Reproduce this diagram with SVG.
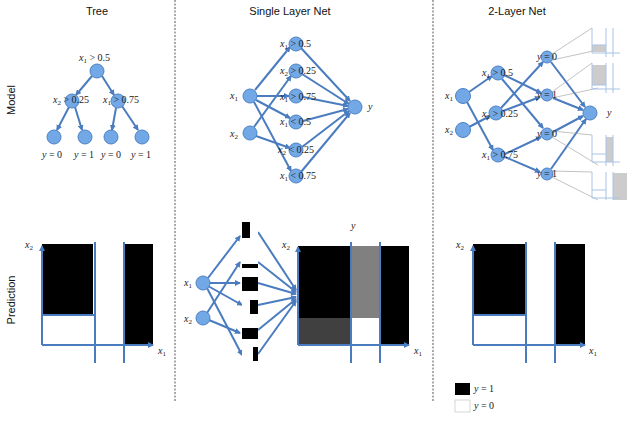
<svg xmlns="http://www.w3.org/2000/svg" width="640" height="421" viewBox="0 0 640 421">
<style>
.t{font-family:"Liberation Sans",sans-serif;font-size:11px;fill:#111;text-anchor:middle}
.m{font-family:"Liberation Serif",serif;font-size:10px;fill:#222}
.mi{font-style:italic}
.n{fill:#72a8e6;stroke:#4d82c4;stroke-width:1}
.e{stroke:#4a7cbf;stroke-width:2;fill:none;marker-end:url(#a)}
.ax{stroke:#4a7cbf;stroke-width:2;fill:none}
.g{stroke:#999;stroke-width:0.6;fill:none}
.mini{stroke:#a9c3e6;stroke-width:1;fill:none}
.div{stroke:#555;stroke-width:1;stroke-dasharray:2,1.5}
</style>
<defs>
<marker id="a" markerWidth="6" markerHeight="6" refX="5" refY="3" orient="auto" markerUnits="userSpaceOnUse"><path d="M0,0L6,3L0,6z" fill="#4a7cbf"/></marker>
</defs>
<rect width="640" height="421" fill="#fff"/>
<line class="div" x1="175" y1="0" x2="175" y2="402"/>
<line class="div" x1="433" y1="0" x2="433" y2="402"/>
<text class="t" x="97" y="15">Tree</text>
<text class="t" x="290" y="15">Single Layer Net</text>
<text class="t" x="517" y="15">2-Layer Net</text>
<text class="t" transform="translate(15,100) rotate(-90)">Model</text>
<text class="t" transform="translate(15,300) rotate(-90)">Prediction</text>

<g id="connectors">
<line class="e" x1="92" y1="76" x2="76" y2="95"/>
<line class="e" x1="102" y1="76" x2="114" y2="95"/>
<line class="e" x1="69" y1="107" x2="57" y2="130"/>
<line class="e" x1="75" y1="107" x2="82" y2="130"/>
<line class="e" x1="116" y1="108" x2="112" y2="130"/>
<line class="e" x1="122" y1="106" x2="138" y2="130"/>
<line class="e" x1="255" y1="90" x2="290" y2="47"/>
<line class="e" x1="257" y1="96" x2="289" y2="96"/>
<line class="e" x1="256" y1="100" x2="290" y2="118"/>
<line class="e" x1="254" y1="102" x2="291" y2="171"/>
<line class="e" x1="254" y1="127" x2="291" y2="76"/>
<line class="e" x1="256" y1="136" x2="290" y2="148"/>
<line class="e" x1="301" y1="48" x2="350" y2="101"/>
<line class="e" x1="302" y1="74" x2="349" y2="104"/>
<line class="e" x1="303" y1="97" x2="348" y2="106"/>
<line class="e" x1="303" y1="121" x2="348" y2="109"/>
<line class="e" x1="302" y1="147" x2="349" y2="111"/>
<line class="e" x1="301" y1="172" x2="350" y2="113"/>
<line class="e" x1="469" y1="92" x2="492" y2="76"/>
<line class="e" x1="467" y1="102" x2="493" y2="150"/>
<line class="e" x1="469" y1="127" x2="490" y2="116"/>
<line class="e" x1="504" y1="75" x2="541" y2="93"/>
<line class="e" x1="502" y1="79" x2="543" y2="128"/>
<line class="e" x1="501" y1="108" x2="543" y2="62"/>
<line class="e" x1="503" y1="111" x2="540" y2="97"/>
<line class="e" x1="505" y1="154" x2="541" y2="137"/>
<line class="e" x1="505" y1="157" x2="540" y2="172"/>
<line class="e" x1="551" y1="62" x2="585" y2="107"/>
<line class="e" x1="553" y1="98" x2="583" y2="110"/>
<line class="e" x1="553" y1="132" x2="583" y2="116"/>
<line class="e" x1="551" y1="169" x2="586" y2="119"/>
<line class="g" x1="552" y1="54" x2="592" y2="28"/><line class="g" x1="552" y1="60" x2="598" y2="50"/>
<line class="g" x1="552" y1="92" x2="592" y2="63"/><line class="g" x1="552" y1="98" x2="598" y2="88"/>
<line class="g" x1="552" y1="131" x2="592" y2="135"/><line class="g" x1="552" y1="137" x2="598" y2="165"/>
<line class="g" x1="552" y1="171" x2="592" y2="172"/><line class="g" x1="552" y1="177" x2="598" y2="200"/>
<line class="e" x1="208" y1="278" x2="240" y2="236"/>
<line class="e" x1="209" y1="283" x2="240" y2="283"/>
<line class="e" x1="208" y1="286" x2="242" y2="305"/>
<line class="e" x1="207" y1="288" x2="242" y2="355"/>
<line class="e" x1="207" y1="313" x2="240" y2="262"/>
<line class="e" x1="209" y1="320" x2="240" y2="333"/>
<line class="e" x1="258" y1="232" x2="296" y2="290"/>
<line class="e" x1="258" y1="262" x2="296" y2="292"/>
<line class="e" x1="258" y1="283" x2="296" y2="294"/>
<line class="e" x1="258" y1="305" x2="296" y2="297"/>
<line class="e" x1="258" y1="330" x2="296" y2="299"/>
<line class="e" x1="258" y1="354" x2="296" y2="301"/>
</g>

<g id="tree-nodes">
<circle class="n" cx="97" cy="71" r="7"/>
<circle class="n" cx="72" cy="101" r="7"/>
<circle class="n" cx="118" cy="101" r="7"/>
<circle class="n" cx="54" cy="137" r="7"/>
<circle class="n" cx="85" cy="137" r="7"/>
<circle class="n" cx="111" cy="137" r="7"/>
<circle class="n" cx="142" cy="137" r="7"/>
<text class="m" x="79" y="61"><tspan class="mi">x</tspan><tspan font-size="7" dy="2">1</tspan><tspan dy="-2"> &gt; 0.5</tspan></text>
<text class="m" x="53" y="103"><tspan class="mi">x</tspan><tspan font-size="7" dy="2">2</tspan><tspan dy="-2"> &gt; 0.25</tspan></text>
<text class="m" x="103" y="103"><tspan class="mi">x</tspan><tspan font-size="7" dy="2">1</tspan><tspan dy="-2"> &gt; 0.75</tspan></text>
<text class="m" x="42" y="158"><tspan class="mi">y</tspan> = 0</text>
<text class="m" x="74" y="158"><tspan class="mi">y</tspan> = 1</text>
<text class="m" x="101" y="158"><tspan class="mi">y</tspan> = 0</text>
<text class="m" x="131" y="158"><tspan class="mi">y</tspan> = 1</text>
</g>

<g id="single-nodes">
<circle class="n" cx="250" cy="96" r="7"/>
<circle class="n" cx="250" cy="133" r="7"/>
<circle class="n" cx="296" cy="44" r="7"/>
<circle class="n" cx="296" cy="71" r="7"/>
<circle class="n" cx="296" cy="96" r="7"/>
<circle class="n" cx="296" cy="122" r="7"/>
<circle class="n" cx="296" cy="150" r="7"/>
<circle class="n" cx="296" cy="176" r="7"/>
<circle class="n" cx="355" cy="107" r="7"/>
<text class="m" x="230" y="99"><tspan class="mi">x</tspan><tspan font-size="7" dy="2">1</tspan></text>
<text class="m" x="230" y="137"><tspan class="mi">x</tspan><tspan font-size="7" dy="2">2</tspan></text>
<text class="m" x="368" y="110" font-style="italic">y</text>
<text class="m" x="280" y="47"><tspan class="mi">x</tspan><tspan font-size="7" dy="2">1</tspan><tspan dy="-2"> &gt; 0.5</tspan></text>
<text class="m" x="280" y="74"><tspan class="mi">x</tspan><tspan font-size="7" dy="2">2</tspan><tspan dy="-2"> &gt; 0.25</tspan></text>
<text class="m" x="280" y="100"><tspan class="mi">x</tspan><tspan font-size="7" dy="2">1</tspan><tspan dy="-2"> &gt; 0.75</tspan></text>
<text class="m" x="280" y="125"><tspan class="mi">x</tspan><tspan font-size="7" dy="2">1</tspan><tspan dy="-2"> &lt; 0.5</tspan></text>
<text class="m" x="278" y="153"><tspan class="mi">x</tspan><tspan font-size="7" dy="2">2</tspan><tspan dy="-2"> &lt; 0.25</tspan></text>
<text class="m" x="280" y="179"><tspan class="mi">x</tspan><tspan font-size="7" dy="2">1</tspan><tspan dy="-2"> &lt; 0.75</tspan></text>
</g>

<g id="two-layer-nodes">
<circle class="n" cx="463" cy="96" r="7.5"/>
<circle class="n" cx="463" cy="130" r="7.5"/>
<circle class="n" cx="498" cy="73" r="7"/>
<circle class="n" cx="496" cy="113" r="7"/>
<circle class="n" cx="498" cy="155" r="7"/>
<circle class="n" cx="547" cy="57" r="6"/>
<circle class="n" cx="547" cy="95" r="6"/>
<circle class="n" cx="547" cy="134" r="6"/>
<circle class="n" cx="547" cy="174" r="6"/>
<circle class="n" cx="590" cy="113" r="7"/>
<text class="m" x="445" y="99"><tspan class="mi">x</tspan><tspan font-size="7" dy="2">1</tspan></text>
<text class="m" x="445" y="133"><tspan class="mi">x</tspan><tspan font-size="7" dy="2">2</tspan></text>
<text class="m" x="607" y="116" font-style="italic">y</text>
<text class="m" x="482" y="76"><tspan class="mi">x</tspan><tspan font-size="7" dy="2">1</tspan><tspan dy="-2"> &gt; 0.5</tspan></text>
<text class="m" x="482" y="117"><tspan class="mi">x</tspan><tspan font-size="7" dy="2">2</tspan><tspan dy="-2"> &gt; 0.25</tspan></text>
<text class="m" x="482" y="158"><tspan class="mi">x</tspan><tspan font-size="7" dy="2">1</tspan><tspan dy="-2"> &gt; 0.75</tspan></text>
<text class="m" x="537" y="60"><tspan class="mi">y</tspan> = 0</text>
<text class="m" x="537" y="98"><tspan class="mi">y</tspan> = 1</text>
<text class="m" x="537" y="137"><tspan class="mi">y</tspan> = 0</text>
<text class="m" x="537" y="177"><tspan class="mi">y</tspan> = 1</text>
</g>

<g id="mini-charts">
<rect x="592" y="45" width="14" height="7" fill="#ccc"/>
<path class="mini" d="M592,28V53H620M592,45H606M606,28V57M613,28V57"/>
<rect x="592" y="65" width="14" height="20" fill="#ccc"/>
<path class="mini" d="M592,63V89H620M592,85H606M606,63V93M613,63V93"/>
<rect x="606" y="137" width="7" height="25" fill="#ccc"/>
<path class="mini" d="M592,135V162H620M592,154H606M606,135V166M613,135V166"/>
<rect x="613" y="173" width="14" height="27" fill="#ccc"/>
<path class="mini" d="M592,172V198H620M592,190H606M606,172V200M613,172V200"/>
</g>

<g id="tree-prediction">
<rect x="42" y="244" width="51" height="71" fill="#000"/>
<rect x="124" y="244" width="29" height="101" fill="#000"/>
<line class="ax" x1="42" y1="315" x2="95" y2="315"/>
<line class="ax" x1="95" y1="242" x2="95" y2="363"/>
<line class="ax" x1="124" y1="242" x2="124" y2="363"/>
<line class="e" x1="42" y1="345" x2="42" y2="246"/>
<line class="e" x1="42" y1="345" x2="153" y2="345"/>
<text class="m" x="25" y="248"><tspan class="mi">x</tspan><tspan font-size="7" dy="2">2</tspan></text>
<text class="m" x="158" y="354"><tspan class="mi">x</tspan><tspan font-size="7" dy="2">1</tspan></text>
</g>

<g id="two-layer-prediction">
<rect x="473" y="244" width="53" height="71" fill="#000"/>
<rect x="555" y="244" width="30" height="101" fill="#000"/>
<line class="ax" x1="473" y1="315" x2="526" y2="315"/>
<line class="ax" x1="526" y1="242" x2="526" y2="363"/>
<line class="ax" x1="555" y1="242" x2="555" y2="363"/>
<line class="e" x1="473" y1="345" x2="473" y2="246"/>
<line class="e" x1="473" y1="345" x2="585" y2="345"/>
<text class="m" x="456" y="248"><tspan class="mi">x</tspan><tspan font-size="7" dy="2">2</tspan></text>
<text class="m" x="589" y="354"><tspan class="mi">x</tspan><tspan font-size="7" dy="2">1</tspan></text>
</g>

<g id="single-prediction">
<circle class="n" cx="203" cy="283" r="7"/>
<circle class="n" cx="203" cy="318" r="7"/>
<text class="m" x="184" y="286"><tspan class="mi">x</tspan><tspan font-size="7" dy="2">1</tspan></text>
<text class="m" x="184" y="322"><tspan class="mi">x</tspan><tspan font-size="7" dy="2">2</tspan></text>
<rect x="242" y="222" width="16" height="16" fill="#fff"/><rect x="242" y="222" width="8" height="16" fill="#000"/>
<rect x="242" y="254" width="16" height="16" fill="#fff"/><rect x="242" y="264" width="16" height="4" fill="#000"/>
<rect x="242" y="277" width="16" height="14" fill="#000"/>
<rect x="242" y="298" width="16" height="16" fill="#fff"/><rect x="250" y="300" width="8" height="14" fill="#000"/>
<rect x="242" y="325" width="16" height="14" fill="#000"/><rect x="242" y="325" width="16" height="3" fill="#fff"/>
<rect x="242" y="347" width="16" height="16" fill="#fff"/><rect x="253" y="347" width="5" height="14" fill="#000"/>
<rect x="298" y="246" width="53" height="72" fill="#000"/>
<rect x="298" y="318" width="53" height="27" fill="#404040"/>
<rect x="351" y="246" width="29" height="72" fill="#808080"/>
<rect x="380" y="246" width="29" height="99" fill="#000"/>
<line class="ax" x1="351" y1="242" x2="351" y2="363"/>
<line class="ax" x1="380" y1="242" x2="380" y2="363"/>
<line class="e" x1="298" y1="345" x2="298" y2="247"/>
<line class="e" x1="298" y1="345" x2="409" y2="345"/>
<text class="m" x="351" y="229" font-style="italic">y</text>
<text class="m" x="282" y="248"><tspan class="mi">x</tspan><tspan font-size="7" dy="2">2</tspan></text>
<text class="m" x="414" y="354"><tspan class="mi">x</tspan><tspan font-size="7" dy="2">1</tspan></text>
</g>

<g id="legend">
<rect x="455" y="383" width="15" height="12" fill="#000"/>
<rect x="455" y="400" width="15" height="12" fill="#fff" stroke="#bbb" stroke-width="0.6"/>
<text class="m" x="474" y="392"><tspan class="mi">y</tspan> = 1</text>
<text class="m" x="474" y="409"><tspan class="mi">y</tspan> = 0</text>
</g>
</svg>
